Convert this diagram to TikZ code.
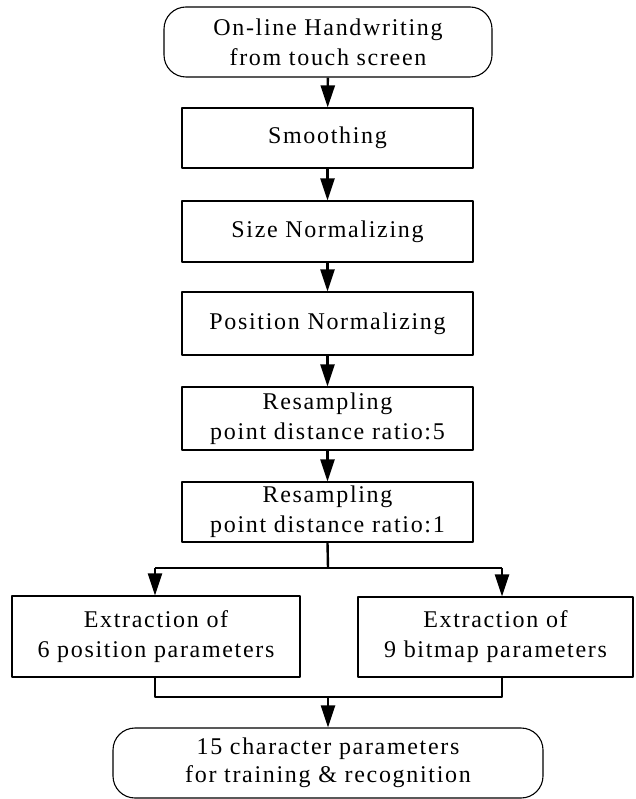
\documentclass[tikz,border=0pt]{standalone}
\usepackage{fontspec}
\setmainfont{Liberation Serif}[LetterSpace=7]
\usetikzlibrary{arrows.meta}

\begin{document}
\begin{tikzpicture}[x=1pt, y=-1pt, line join=round,
    box/.style={draw, line width=1.1pt, minimum width=291pt, minimum height=61pt,
      align=center, inner sep=0pt},
    roundbox/.style={box, rounded corners=22pt},
    link/.style={line width=2.4pt},
    flow/.style={link, -{Triangle[length=22pt,width=14pt]}},
    font=\fontsize{24}{30}\selectfont]

  %% ════ boxes ════
  \node[roundbox, minimum width=328pt, minimum height=70pt] (input) at (328,42) {On-line Handwriting\\from touch screen};
  \node[box, minimum height=60pt] (smooth) at (327.5,138) {Smoothing};
  \node[box] (sizenorm) at (327.5,231.5) {Size Normalizing};
  \node[box, minimum height=63pt] (posnorm) at (327.5,323.5) {Position Normalizing};
  \node[box, minimum height=63pt] (resfive) at (327.5,418.5) {Resampling\\point distance ratio:5};
  \node[box, minimum height=60pt] (resone) at (327.5,512) {Resampling\\point distance ratio:1};
  \node[box, minimum width=288pt, minimum height=81pt] (posfeat) at (156,636.5) {Extraction of\\6 position parameters};
  \node[box, minimum width=275pt, minimum height=80pt] (bitfeat) at (495.5,637) {Extraction of\\9 bitmap parameters};
  \node[roundbox, minimum width=430pt, minimum height=70pt, font=\fontsize{24}{28}\selectfont] (result) at (328,763) {15 character parameters\\for training \& recognition};

  %% ════ branch points ════
  \coordinate (split)  at (328,568);
  \coordinate (splitL) at (155,568);
  \coordinate (splitR) at (502,568);
  \coordinate (merge)  at (328,697);
  \coordinate (mergeL) at (155,697);
  \coordinate (mergeR) at (502,697);

  %% ════ connectors ════
  \draw[flow] (input) -- (smooth);
  \draw[flow] (smooth) -- (sizenorm);
  \draw[flow] (sizenorm) -- (posnorm);
  \draw[flow] (posnorm) -- (resfive);
  \draw[flow] (resfive) -- (resone);
  \draw[link] (resone.south) -- (split);
  \draw[link] (splitL) -- (splitR);
  \draw[flow] (splitL) -- (posfeat.north -| splitL);
  \draw[flow] (splitR) -- (bitfeat.north -| splitR);
  \draw[link] (posfeat.south -| mergeL) -- (mergeL) -- (mergeR) -- (bitfeat.south -| mergeR);
  \draw[flow] (merge) -- (result);

  % fix the canvas to the reference size
  \pgfresetboundingbox
  \path[use as bounding box] (0,0) rectangle (635,799);
\end{tikzpicture}
\end{document}
